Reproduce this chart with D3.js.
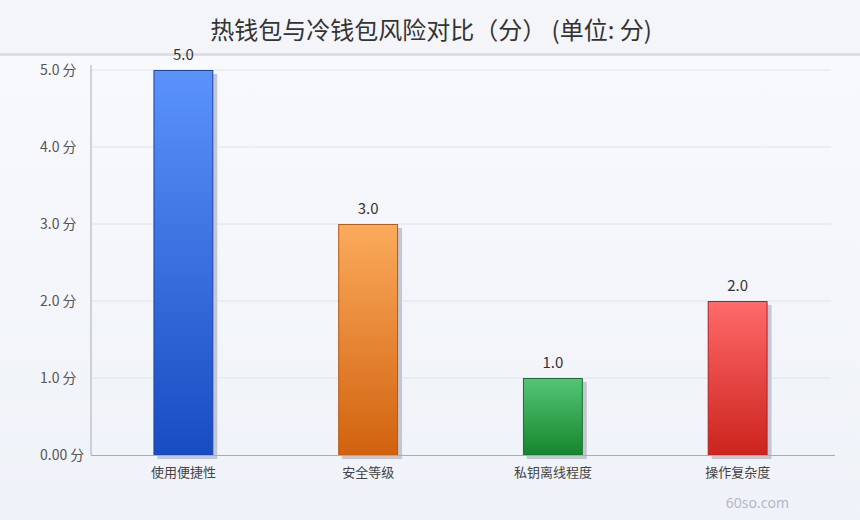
<!DOCTYPE html>
<html><head><meta charset="utf-8">
<script src="https://cdn.jsdelivr.net/npm/d3@7"></script>
<style>
html,body{margin:0;padding:0;}
body{width:860px;height:520px;overflow:hidden;font-family:"Noto Sans CJK SC","Noto Sans",sans-serif;}
</style></head>
<body><svg id="c" width="860" height="520"></svg>
<script>
const title = "热钱包与冷钱包风险对比（分） (单位: 分)";
const categories = ["使用便捷性", "安全等级", "私钥离线程度", "操作复杂度"];
const values = [5.0, 3.0, 1.0, 2.0];
const yTicks = [0, 1, 2, 3, 4, 5];
const yTickLabels = ["0.00 分", "1.0 分", "2.0 分", "3.0 分", "4.0 分", "5.0 分"];
const topColors = ["#5b93fb", "#fbab5c", "#53c676", "#ff6a6a"];
const bottomColors = ["#184cc2", "#d1620e", "#17852d", "#cc231d"];
const strokeColors = ["#1a45a8", "#b85a10", "#1a7030", "#b02020"];
const watermark = "60so.com";

const svg = d3.select("#c");
const W = 860, H = 520;
const m = {left: 91, right: 830, top: 70, bottom: 455};

const defs = svg.append("defs");
const bg = defs.append("linearGradient").attr("id","bg").attr("x1",0).attr("y1",0).attr("x2",0).attr("y2",1);
bg.append("stop").attr("offset","0%").attr("stop-color","#f9fafe");
bg.append("stop").attr("offset","100%").attr("stop-color","#eff2f8");
svg.append("rect").attr("width",W).attr("height",H).attr("fill","url(#bg)");
svg.append("rect").attr("width",W).attr("height",53).attr("fill","#f4f5f9");
svg.append("rect").attr("y",53).attr("width",W).attr("height",3).attr("fill","#dcdee7");

svg.append("text").attr("x",431).attr("y",39).attr("text-anchor","middle")
  .attr("font-size",24).attr("fill","#333").text(title);

const x = d3.scaleBand().domain(categories).range([m.left, m.right]).paddingInner(0.676).paddingOuter(0.338);
const y = d3.scaleLinear().domain([0,5]).range([m.bottom, m.top]);

// gridlines
svg.append("g").selectAll("line").data(yTicks.slice(1)).join("line")
  .attr("x1",m.left).attr("x2",m.right+1).attr("y1",d=>y(d)).attr("y2",d=>y(d))
  .attr("stroke","#dfe2ea").attr("stroke-width",1);

// y axis (labels left-aligned at x=40)
const yAxis = d3.axisLeft(y).tickValues(yTicks).tickSize(0).tickPadding(0)
  .tickFormat((d,i)=>yTickLabels[i]);
const gy = svg.append("g").attr("transform",`translate(${m.left},0)`).call(yAxis);
gy.select(".domain").attr("stroke","#a8acb8").attr("d",`M0,${m.top-5}V${m.bottom}`);
gy.selectAll("text").attr("font-size",14).attr("fill","#555")
  .attr("text-anchor","start").attr("x",40-m.left)
  .attr("font-family","'Noto Sans CJK SC',sans-serif");

// gradients
categories.forEach((c,i)=>{
  const g = defs.append("linearGradient").attr("id","g"+i).attr("x1",0).attr("y1",0).attr("x2",0).attr("y2",1);
  g.append("stop").attr("offset","0%").attr("stop-color",topColors[i]);
  g.append("stop").attr("offset","100%").attr("stop-color",bottomColors[i]);
});

const data = categories.map((c,i)=>({c, v: values[i], i}));
// shadows
svg.append("g").selectAll("rect").data(data).join("rect")
  .attr("x",d=>x(d.c)+4).attr("y",d=>y(d.v)+4)
  .attr("width",x.bandwidth()).attr("height",d=>y(0)-y(d.v))
  .attr("fill","#c3c7d3");
// bars
svg.append("g").selectAll("rect").data(data).join("rect")
  .attr("x",d=>x(d.c)+0.5).attr("y",d=>y(d.v)+0.5)
  .attr("width",x.bandwidth()-1).attr("height",d=>y(0)-y(d.v)-0.5)
  .attr("fill",d=>`url(#g${d.i})`).attr("stroke",d=>strokeColors[d.i]).attr("stroke-width",1);

// x axis
const xAxis = d3.axisBottom(x).tickSize(0).tickPadding(13);
const gx = svg.append("g").attr("transform",`translate(0,${m.bottom})`).call(xAxis);
gx.select(".domain").attr("stroke","#a8acb8").attr("d",`M${m.left},0.5H${m.right+5}`);
gx.selectAll("text").attr("font-size",13).attr("fill","#444").attr("font-family","'Noto Sans CJK SC',sans-serif");

// value labels
svg.append("g").selectAll("text").data(data).join("text")
  .attr("x",d=>x(d.c)+x.bandwidth()/2).attr("y",d=>y(d.v)-10)
  .attr("text-anchor","middle").attr("font-size",15).attr("fill","#333")
  .text(d=>d.v.toFixed(1));

svg.append("text").attr("x",789).attr("y",508).attr("text-anchor","end")
  .attr("font-size",14).attr("fill","#b4b8c4").attr("font-family","'Noto Sans',sans-serif").text(watermark);
</script>
</body></html>
